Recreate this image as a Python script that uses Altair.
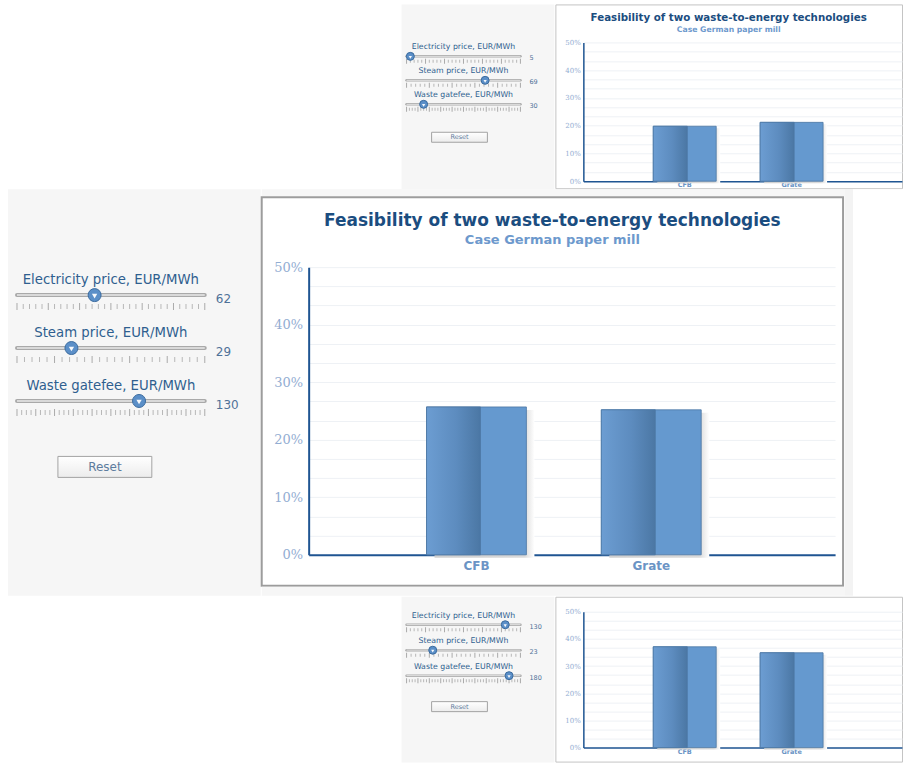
import altair as alt
import pandas as pd

# ---- slider settings shared by every screen ----
SLIDER_NAMES = ["Electricity price, EUR/MWh", "Steam price, EUR/MWh", "Waste gatefee, EUR/MWh"]
SLIDER_MAX = [150, 100, 200]
SLIDER_STEP = [5, 4, 5]
SLIDER_MAJOR = [25, 20, 20]

# slider positions of the three screens
TOP_SLIDERS = [5, 69, 30]
MAIN_SLIDERS = [62, 29, 130]
BOTTOM_SLIDERS = [130, 23, 180]

# feasibility results per technology
TECHNOLOGIES = ["CFB", "Grate"]
TOP_FEAS = [0.198, 0.212]
MAIN_FEAS = [0.257, 0.252]
BOTTOM_FEAS = [0.371, 0.349]

TITLE = "Feasibility of two waste-to-energy technologies"
SUBTITLE = "Case German paper mill"

PANEL_GRAY = "#f6f6f6"
NAVY = "#1b4d80"
AXIS_BLUE = "#1f5592"
FONT = "DejaVu Sans"


def blank(w, h, fill):
    # an empty view used as a coloured spacer
    return alt.Chart(pd.DataFrame({"v": [0]})).transform_filter("false").mark_point().encode(
        x=alt.value(0), y=alt.value(0)
    ).properties(width=w, height=h, view=alt.ViewBackground(fill=fill, stroke=None))


def slider_panel(values, lay):
    rows = SLIDER_NAMES + ["Reset"]
    df = pd.DataFrame({"name": SLIDER_NAMES, "value": values, "max": SLIDER_MAX})
    df["frac"] = df["value"] / df["max"]

    tick_rows = []
    for name, mx, st, mj in zip(SLIDER_NAMES, SLIDER_MAX, SLIDER_STEP, SLIDER_MAJOR):
        for v in range(0, mx + 1, st):
            tick_rows.append({"name": name, "frac": v / mx, "major": v % mj == 0 or v == mx})
    ticks = pd.DataFrame(tick_rows)

    xs = alt.Scale(domain=[0, 1], range=[lay["x0"], lay["x1"]])
    ys = alt.Scale(type="point", domain=rows, range=[lay["y0"], lay["y3"]], padding=0)
    X = lambda f: alt.X(f, scale=xs, axis=None)
    Y = alt.Y("name:N", scale=ys, axis=None)

    base = alt.Chart(df)
    label = base.mark_text(dy=lay["ldy"], font=FONT, fontSize=lay["lfs"], color="#2f5f8f").encode(
        x=alt.X(datum=0.5, scale=xs, axis=None), y=Y, text="name:N")
    track_out = base.mark_rule(strokeWidth=lay["tw"], color="#a9a9a9", strokeCap="round").encode(
        x=alt.X(datum=0, scale=xs, axis=None), x2=alt.datum(1), y=Y)
    track_in = base.mark_rule(strokeWidth=lay["tw"] / 2, color="#d9d9d9").encode(
        x=alt.X(datum=0, scale=xs, axis=None), x2=alt.datum(1), y=Y)
    minor = alt.Chart(ticks).transform_filter("!datum.major").mark_tick(
        size=lay["ts"], thickness=1, color="#9d9d9d", yOffset=lay["tdy"]).encode(x=X("frac:Q"), y=Y)
    major = alt.Chart(ticks).transform_filter("datum.major").mark_tick(
        size=lay["ts"] + 2, thickness=1, color="#8a8a8a", yOffset=lay["tdy"]).encode(x=X("frac:Q"), y=Y)
    thumb = base.mark_point(shape="circle", filled=True, size=lay["th"], color="#5b8fc8",
                            stroke="#3a6a9e", strokeWidth=1, opacity=1).encode(x=X("frac:Q"), y=Y)
    arrow = base.mark_point(shape="triangle-down", filled=True, size=lay["th"] / 6, color="white",
                            opacity=0.95, yOffset=1).encode(x=X("frac:Q"), y=Y)
    val = base.mark_text(align="left", dx=lay["vdx"], dy=lay["vdy"], font=FONT,
                         fontSize=lay["vfs"], color="#4f7198").encode(
        x=alt.X(datum=1, scale=xs, axis=None), y=Y, text="value:Q")

    btn_df = pd.DataFrame({"name": ["Reset"], "text": ["Reset"]})
    button = alt.Chart(btn_df).mark_bar(
        size=lay["bh"], yOffset=lay["bdy"], stroke="#a3a3a3", strokeWidth=1,
        color=alt.LinearGradient(gradient="linear", x1=0, x2=0, y1=0, y2=1,
                                 stops=[alt.GradientStop(color="#ffffff", offset=0),
                                        alt.GradientStop(color="#ececec", offset=1)])
    ).encode(x=alt.X(datum=lay["b0"], scale=xs, axis=None), x2=alt.datum(lay["b1"]), y=Y)
    btn_text = alt.Chart(btn_df).mark_text(dy=lay["bdy"], font=FONT, fontSize=lay["vfs"],
                                           color="#5d7c9e").encode(
        x=alt.X(datum=(lay["b0"] + lay["b1"]) / 2, scale=xs, axis=None), y=Y, text="text:N")

    return alt.layer(track_out, track_in, minor, major, label, val, thumb, arrow, button, btn_text).properties(
        width=lay["w"], height=lay["h"], view=alt.ViewBackground(fill=PANEL_GRAY, stroke=None))


def feas_chart(feas, lay):
    n = len(TECHNOLOGIES)
    left, right, step, bw = lay["left"], lay["right"], lay["step"], lay["bw"]
    p_inner = 1 - bw / step
    span = right - left
    p_outer = (span / step - (n - p_inner)) / 2
    align = (lay["start"] - left) / (span - step * (n - p_inner))

    df = pd.DataFrame({"tech": TECHNOLOGIES, "feas": feas})

    grid_vals = [round(i * 0.5 / 15, 6) for i in range(0, 16)]
    xs = alt.Scale(domain=TECHNOLOGIES, range=[left, right], paddingInner=p_inner,
                   paddingOuter=p_outer, align=align)
    ys = alt.Scale(domain=[0, 0.5], range=[lay["y0"], lay["y50"]], nice=False)
    x = alt.X("tech:N", scale=xs, title=None, axis=alt.Axis(
        labelAngle=0, ticks=False, domainColor=AXIS_BLUE, domainWidth=lay["aw"],
        offset=-(lay["h"] - lay["y0"]), labelPadding=lay["xlp"], labelFont=FONT,
        labelFontWeight="bold", labelFontSize=lay["xfs"], labelColor="#6b94c5", grid=False))
    y = alt.Y("feas:Q", scale=ys, title=None, axis=alt.Axis(
        values=grid_vals, ticks=False, domainColor=AXIS_BLUE, domainWidth=lay["aw"],
        offset=-left, labelPadding=lay["ylp"], labelFont="DejaVu Serif", labelFontSize=lay["yfs"],
        labelColor="#93add2",
        labelExpr="abs(datum.value * 10 - round(datum.value * 10)) < 0.001 ? format(datum.value, '.0%') : ''",
        grid=True, gridColor="#eef1f5", gridWidth=1))

    half = 0.54
    shadow = alt.Chart(df).mark_bar(
        xOffset=lay["sdx"], yOffset=lay["sdy"],
        color=alt.LinearGradient(gradient="linear", x1=0, x2=1, y1=0, y2=0,
                                 stops=[alt.GradientStop(color="#cfcfcf", offset=0),
                                        alt.GradientStop(color="#dadada", offset=0.9),
                                        alt.GradientStop(color="#ffffff", offset=1)])
    ).encode(x=x, y=y)
    body = alt.Chart(df).mark_bar(stroke="#4d77a3", strokeWidth=0.8, color="#6599cf").encode(x=x, y=y)
    shade = alt.Chart(df).mark_bar(
        width=alt.RelativeBandSize(half), xOffset=-bw * (1 - half) / 2,
        stroke="#4d77a3", strokeWidth=0.8,
        color=alt.LinearGradient(gradient="linear", x1=0, x2=1, y1=0, y2=0,
                                 stops=[alt.GradientStop(color="#6c9dd2", offset=0),
                                        alt.GradientStop(color="#5d8cbf", offset=0.55),
                                        alt.GradientStop(color="#4b77a4", offset=1)])
    ).encode(x=x, y=y)

    layers = alt.layer(shadow, body, shade)
    props = dict(width=lay["w"], height=lay["h"],
                 view=alt.ViewBackground(fill="white", stroke=lay["stroke"], strokeWidth=lay["sw"]))
    if lay.get("title", True):
        props["title"] = alt.TitleParams(
            text=TITLE, subtitle=SUBTITLE, anchor="middle", frame="group", offset=lay["toff"],
            font=FONT, fontSize=lay["tfs"], fontWeight="bold", color=NAVY,
            subtitleFont=FONT, subtitleFontSize=lay["sfs"], subtitleFontWeight="bold",
            subtitleColor="#6d99cd", subtitlePadding=lay["spad"])
    return layers.properties(**props)


small_slider = dict(w=153, h=185, x0=5, x1=119, y0=52, y3=124, ldy=-9, lfs=7.8, tw=2.5, ts=3, tdy=5,
                    th=64, vdx=9, vdy=2, vfs=6.5, bh=10, bdy=9, b0=0.22, b1=0.71)
top_slider = small_slider
bottom_slider = dict(small_slider, h=166, y0=28, y3=104.5, bdy=5.5)
main_slider = dict(w=253, h=407, x0=9, x1=197, y0=106, y3=265, ldy=-15, lfs=13.3, tw=4, ts=5, tdy=11.5,
                   th=169, vdx=11, vdy=4, vfs=12, bh=21, bdy=13, b0=0.218, b1=0.718)

# chart views are one pixel smaller than their slot on each side that carries the border stroke
small_chart = dict(w=347, h=184, left=28, right=347, step=107, bw=63, start=98, y0=177, y50=38,
                   aw=1.5, xlp=0, xfs=6.5, ylp=3, yfs=7, sdx=4, sdy=2, stroke="#c4c4c4", sw=1,
                   toff=-29, tfs=10.3, sfs=7.7, spad=2)
top_chart = small_chart
bottom_chart = dict(small_chart, h=165, y0=151, y50=15, xlp=1, title=False)
main_chart = dict(w=582, h=389, left=47, right=574, step=175, bw=100, start=165, y0=358, y50=70,
                  aw=2, xlp=6, xfs=12, ylp=6, yfs=13, sdx=8, sdy=3, stroke="#9c9c9c", sw=2,
                  toff=-51, tfs=17, sfs=13, spad=4)

row1 = alt.hconcat(blank(402, 185, "white"), slider_panel(TOP_SLIDERS, top_slider),
                   feas_chart(TOP_FEAS, top_chart), spacing=0)
box = alt.vconcat(blank(584, 7, PANEL_GRAY), feas_chart(MAIN_FEAS, main_chart),
                  blank(584, 9, PANEL_GRAY), spacing=0)
row2 = alt.hconcat(blank(8, 407, "white"), slider_panel(MAIN_SLIDERS, main_slider), box,
                   blank(8, 407, "#f3f3f3"), blank(50, 407, "white"), spacing=0)
row3 = alt.hconcat(blank(402, 166, "white"), slider_panel(BOTTOM_SLIDERS, bottom_slider),
                   feas_chart(BOTTOM_FEAS, bottom_chart), spacing=0)

chart = alt.vconcat(row1, row2, row3, spacing=0).properties(
    padding={"left": 0, "top": 3, "right": 0, "bottom": 0}, background="white"
).configure_view(stroke=None)

chart.save("out.html", embed_options={"renderer": "svg", "actions": False})
